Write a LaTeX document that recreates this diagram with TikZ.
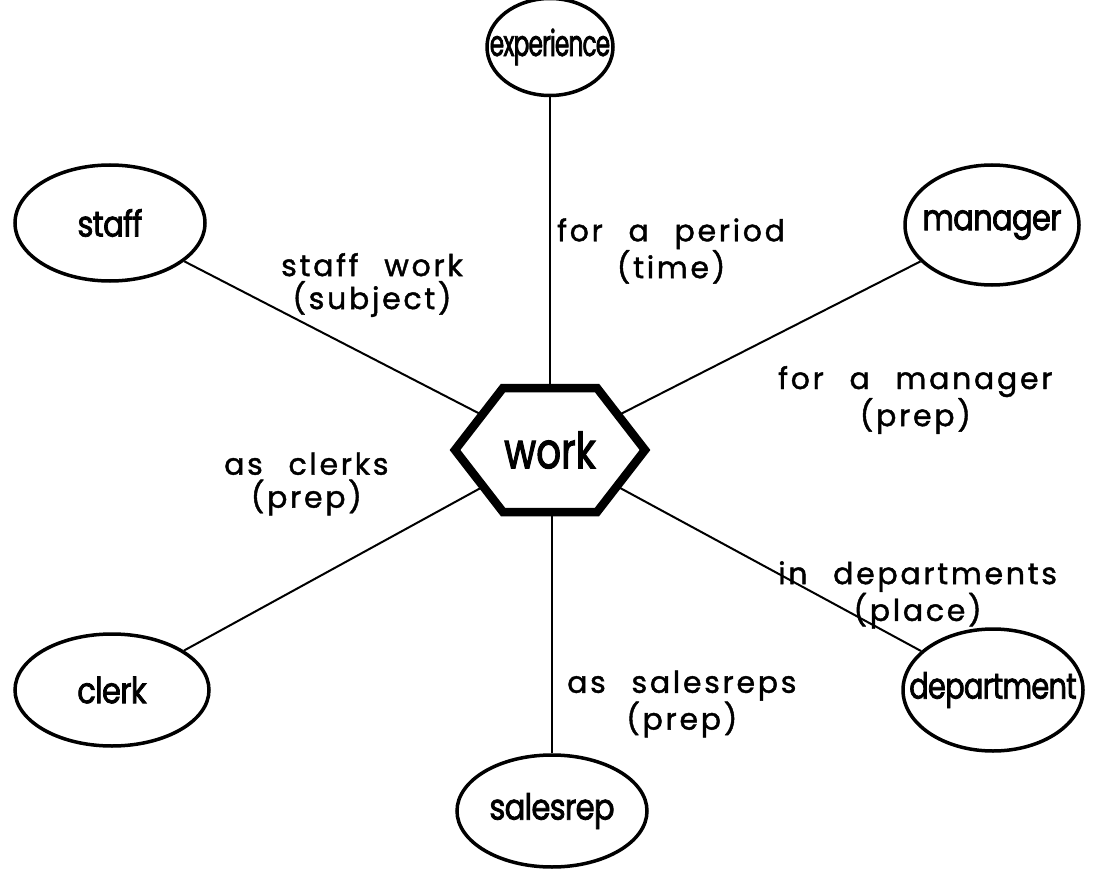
\documentclass[tikz,border=0pt]{standalone}
\usepackage{fontspec}
\setmainfont{Poppins}[LetterSpace=9, WordSpace=2.4, FakeBold=1.4]
\newfontfamily\conceptfont{Poppins}[FakeStretch=0.85, LetterSpace=-2, FakeBold=2]
\newfontfamily\midconceptfont{Poppins}[FakeStretch=0.8, LetterSpace=-2, FakeBold=2]
\newfontfamily\narrowconceptfont{Poppins}[FakeStretch=0.64, LetterSpace=-2, FakeBold=2]
\newfontfamily\centrefont{Poppins}[FakeStretch=0.78, FakeBold=2]
\usetikzlibrary{shapes.geometric}

\begin{document}
\begin{tikzpicture}[x=1pt,y=-1pt,
  concept/.style n args={2}{ellipse, draw, line width=3.5pt,
    minimum width=#1, minimum height=#2, inner sep=0pt},
  conceptname/.style={font=\conceptfont\fontsize{36}{38}\selectfont, inner sep=0pt},
  relation/.style={align=center, inner sep=0pt, anchor=west,
    font=\fontsize{30}{33}\selectfont},
  link/.style={line width=2pt},
  hexagonbox/.style={draw, fill=white, line width=8.5pt, line join=miter}]

\useasboundingbox (0,0) rectangle (1093,880);

% centre of the central concept
\coordinate (work) at (550,450);

% surrounding concepts
\node[concept={126pt}{97pt}] (experience) at (550,47) {};
\node[conceptname, font=\narrowconceptfont\fontsize{36}{38}\selectfont]
  (experienceText) at (experience) {experience};
\node[concept={190pt}{116pt}] (staff) at (110,223) {};
\node[conceptname] (staffText) at (staff) {staff};
\node[concept={174pt}{120pt}] (manager) at (992,225) {};
\node[conceptname] (managerText) at (manager) {manager};
\node[concept={194pt}{112pt}] (clerk) at (112,690) {};
\node[conceptname] (clerkText) at (clerk) {clerk};
\node[concept={180pt}{122pt}] (department) at (993,690) {};
\node[conceptname, font=\midconceptfont\fontsize{36}{38}\selectfont]
  (departmentText) at (department) {department};
\node[concept={190pt}{112pt}] (salesrep) at (552,811) {};
\node[conceptname] (salesrepText) at (salesrep) {salesrep};

% links to the central concept
\draw[link] (experience) -- (work);
\draw[link] (staff) -- (work);
\draw[link] (manager) -- (work);
\draw[link] (clerk) -- (work);
\draw[link] (department) -- (work);
\draw[link] (salesrep) -- (salesrep |- work);

% central hexagon
\draw[hexagonbox] (455,450) -- (503,388) -- (597,388) -- (645,450)
  -- (597,512) -- (503,512) -- cycle;
\node[font=\centrefont\fontsize{50}{52}\selectfont, inner sep=0pt]
  (workText) at (work) {work};

% relation labels
\node[relation] (subjectLabel) at (281,285) {staff work\\(subject)};
\node[relation] (timeLabel) at (557,251) {for a period\\(time)};
\node[relation] (managerLabel) at (778,400) {for a manager\\(prep)};
\node[relation] (clerkLabel) at (224,484) {as clerks\\(prep)};
\node[relation] (placeLabel) at (778,595) {in departments\\(place)};
\node[relation] (salesLabel) at (567,704) {as salesreps\\(prep)};

\end{tikzpicture}
\end{document}
